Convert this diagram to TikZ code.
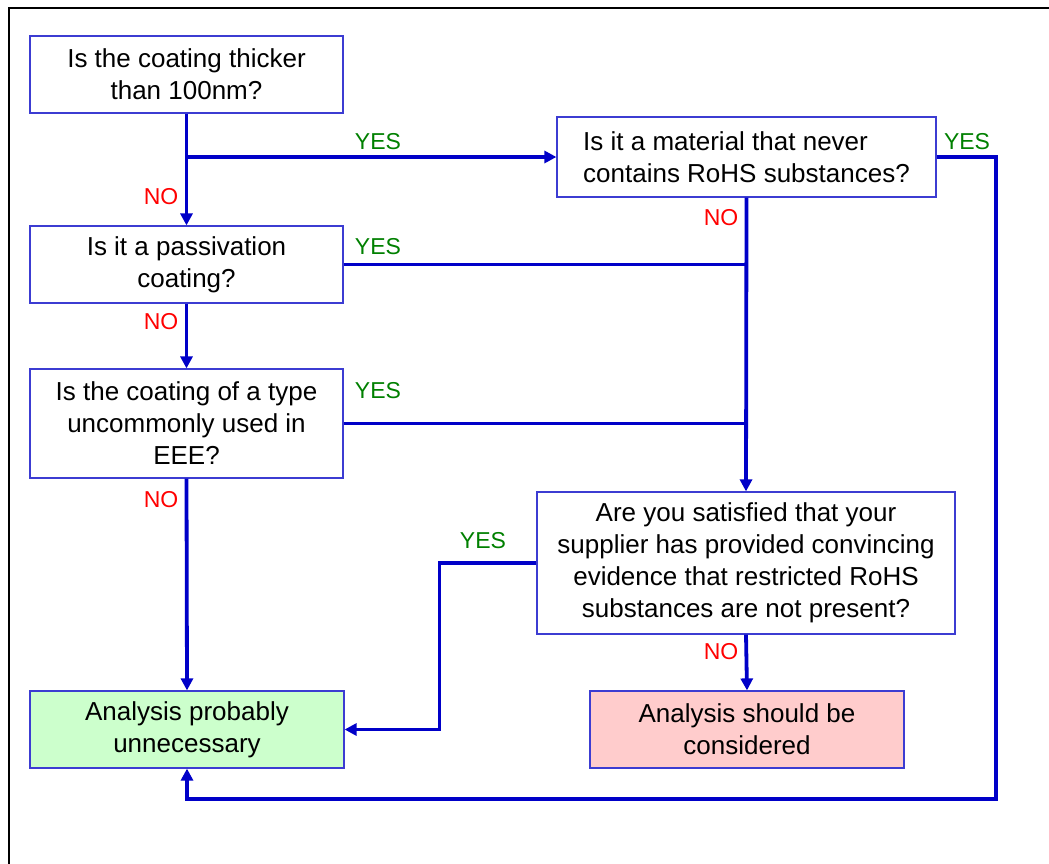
\documentclass[tikz,border=0pt]{standalone}
\usepackage{fontspec}
\setmainfont{Liberation Sans}
\usetikzlibrary{arrows.meta}
\definecolor{boxblue}{RGB}{60,60,210}
\definecolor{flowblue}{RGB}{0,0,200}
\definecolor{yesgreen}{RGB}{0,128,0}
\definecolor{okfill}{RGB}{204,255,204}
\definecolor{badfill}{RGB}{255,204,204}
\tikzset{
  question/.style={draw=boxblue, line width=0.6pt, fill=white, align=center, inner sep=2pt,
    font=\fontsize{13}{16}\selectfont},
  line/.style={draw=flowblue, line width=1.9pt},
  flow/.style={line, -{Triangle[length=6pt,width=6pt]}},
  yes/.style={text=yesgreen, font=\fontsize{11.5}{13}\selectfont, inner sep=0pt},
  no/.style={text=red, font=\fontsize{11.5}{13}\selectfont, inner sep=0pt},
}
\begin{document}
\begin{tikzpicture}[x=0.5pt, y=-0.5pt]
  \useasboundingbox (0,0) rectangle (1049,863);
  \draw[line width=1.3pt] (9,870) -- (9,8) -- (1060,8);
  % boxes
  \node[question, minimum width=156.5pt, minimum height=38.5pt] (q1) at (186.5,74.5) {Is the coating thicker\\than 100nm?};
  \node[question, minimum width=156.5pt, minimum height=38.5pt] (q2) at (186.5,264.5) {Is it a passivation\\coating?};
  \node[question, minimum width=156.5pt, minimum height=54.5pt] (q3) at (186.5,423.5) {Is the coating of a type\\uncommonly used in\\EEE?};
  \node[question, minimum width=189.5pt, minimum height=40pt, align=left] (q4) at (746.5,157) {Is it a material that never\\contains RoHS substances?};
  \node[question, minimum width=209pt, minimum height=71pt] (q5) at (746,563) {Are you satisfied that your\\supplier has provided convincing\\evidence that restricted RoHS\\substances are not present?};
  \node[question, fill=okfill, minimum width=157pt, minimum height=38.5pt] (ok) at (187,729.5) {Analysis probably\\unnecessary};
  \node[question, fill=badfill, minimum width=157pt, minimum height=38.5pt] (check) at (747,729.5) {Analysis should be\\considered};
  % connectors
  \coordinate (j1) at (q1.south |- q4.west);
  \coordinate (rt) at (996,799);
  \draw[flow] (q1.south) -- (q2.north);
  \draw[flow] (j1) -- (q4.west);
  \draw[flow] (q2.south) -- (q3.north);
  \draw[flow] (q3.south) -- (ok.north);
  \draw[line] (q2.east) -- (q2.east -| q4.south);
  \draw[line] (q3.east) -- (q3.east -| q4.south);
  \draw[flow] (q4.south) -- (q5.north);
  \draw[flow] (q5.south) -- (check.north);
  \draw[flow] (q5.west) -- ++(-97,0) |- (ok.east);
  \draw[flow] (q4.east) -| (rt) -| (ok.south);
  % labels
  \node[no] (no1) at (161,197) {NO};
  \node[yes] (yes1) at (378,142) {YES};
  \node[yes] (yes2) at (378,247) {YES};
  \node[no] (no2) at (161,322) {NO};
  \node[yes] (yes3) at (378,391) {YES};
  \node[no] (no3) at (721,218) {NO};
  \node[no] (no4) at (161,500) {NO};
  \node[yes] (yes4) at (483,541) {YES};
  \node[no] (no5) at (721,652) {NO};
  \node[yes] (yes5) at (967,142) {YES};
\end{tikzpicture}
\end{document}
